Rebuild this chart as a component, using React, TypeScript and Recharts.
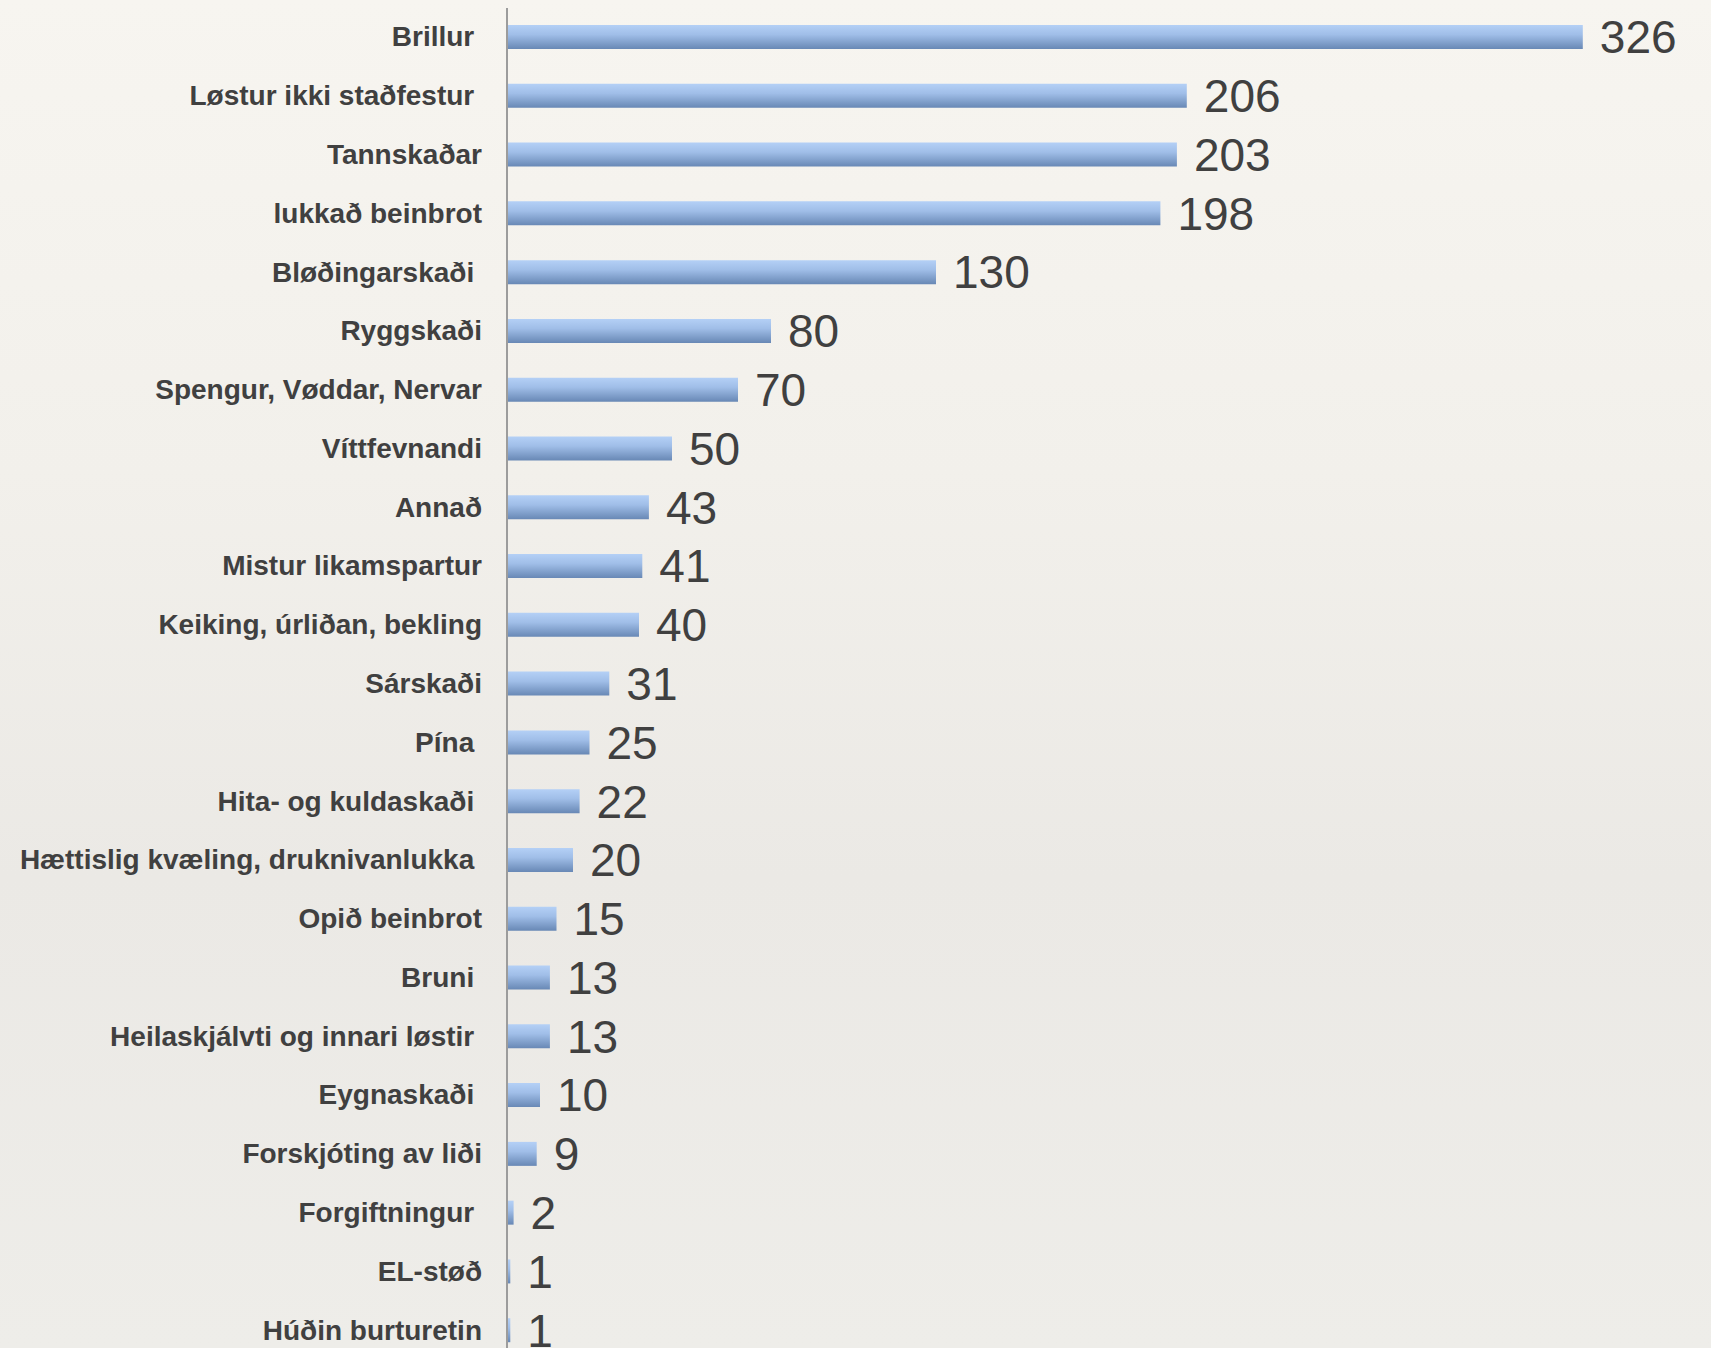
import { BarChart, Bar, XAxis, YAxis, LabelList } from 'recharts';

// Labels kept as in the source sheet (some carry a trailing space)
const categories = [
  'Brillur ',
  'Løstur ikki staðfestur ',
  'Tannskaðar',
  'lukkað beinbrot',
  'Bløðingarskaði ',
  'Ryggskaði',
  'Spengur, Vøddar, Nervar',
  'Víttfevnandi',
  'Annað',
  'Mistur likamspartur',
  'Keiking, úrliðan, bekling',
  'Sárskaði',
  'Pína ',
  'Hita- og kuldaskaði ',
  'Hættislig kvæling, druknivanlukka ',
  'Opið beinbrot',
  'Bruni ',
  'Heilaskjálvti og innari løstir ',
  'Eygnaskaði ',
  'Forskjóting av liði',
  'Forgiftningur ',
  'EL-støð',
  'Húðin burturetin',
];

const counts = [326, 206, 203, 198, 130, 80, 70, 50, 43, 41, 40, 31, 25, 22, 20, 15, 13, 13, 10, 9, 2, 1, 1];

const data = categories.map((name, i) => ({ name, value: counts[i] }));

const font = '"Liberation Sans", Arial, Helvetica, sans-serif';

const CategoryTick = ({ x, y, payload }: any) => (
  <text
    x={x}
    y={y}
    dy={9}
    textAnchor="end"
    fill="#404040"
    fontSize={28}
    fontWeight="bold"
    fontFamily={font}
    style={{ whiteSpace: 'pre' }}
  >
    {payload.value}
  </text>
);

export default function App() {
  return (
    <div
      style={{
        position: 'fixed',
        inset: 0,
        overflow: 'hidden',
        background: 'linear-gradient(180deg, #f7f5f0 0%, #f2f0eb 35%, #ebe9e5 65%, #eeede9 100%)',
      }}
    >
      <div style={{ position: 'absolute', left: 8, top: 8 }}>
        <BarChart
          width={1687}
          height={1352}
          data={data}
          layout="vertical"
          margin={{ top: 0, right: 0, bottom: 0, left: 0 }}
          barSize={24}
        >
          <defs>
            <linearGradient id="barGrad" x1="0" y1="0" x2="0" y2="1">
              <stop offset="0%" stopColor="#b4d0f6" />
              <stop offset="40%" stopColor="#a0bee8" />
              <stop offset="100%" stopColor="#6888b5" />
            </linearGradient>
          </defs>
          <XAxis type="number" domain={[0, 360]} hide />
          <YAxis
            type="category"
            dataKey="name"
            width={499}
            interval={0}
            tickLine={false}
            tickSize={0}
            tickMargin={25}
            axisLine={{ stroke: '#9c9c9c', strokeWidth: 2 }}
            tick={<CategoryTick />}
          />
          <Bar dataKey="value" fill="url(#barGrad)" isAnimationActive={false}>
            <LabelList
              dataKey="value"
              position="right"
              offset={17}
              fill="#404040"
              fontSize={46}
              fontFamily={font}
            />
          </Bar>
        </BarChart>
      </div>
    </div>
  );
}
